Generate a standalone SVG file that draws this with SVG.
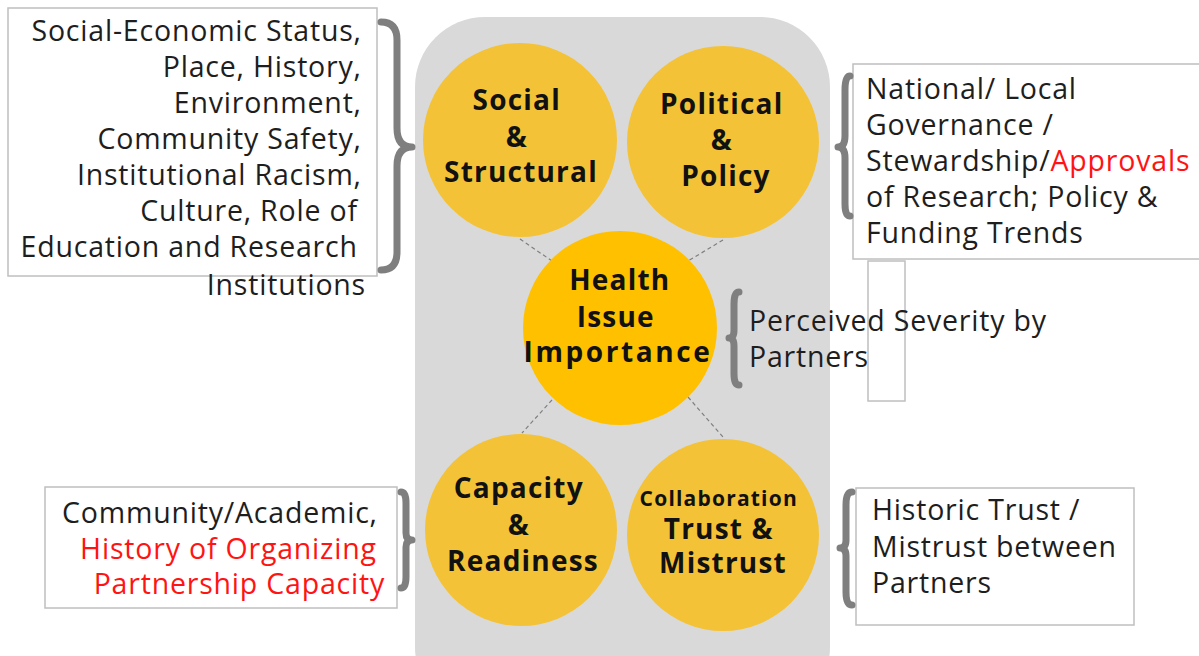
<svg xmlns="http://www.w3.org/2000/svg" width="1199" height="656" viewBox="0 0 1199 656">
  <style>
    .panel { fill: #d9d9d9; }
    .outer { fill: #f4c236; }
    .core { fill: #ffc000; }
    .box { fill: #ffffff; stroke: #bfbfbf; stroke-width: 1.5; }
    .brace { fill: none; stroke: #7f7f7f; stroke-width: 7; stroke-linecap: round; stroke-linejoin: round; }
    .link { stroke: #7f7f7f; stroke-width: 1.2; stroke-dasharray: 4 3; }
    .title { font-family: "Open Sans", "Noto Sans", sans-serif; font-weight: bold; font-size: 28px; letter-spacing: 1.2px; fill: #111111; text-anchor: middle; }
    .note { font-family: "Open Sans", "Noto Sans", sans-serif; font-size: 28.5px; letter-spacing: 0.8px; fill: #1e1e1e; }
    .red { fill: #ff1414; }
  </style>

  <!-- background panel holding the five factors -->
  <rect class="panel" x="415" y="17" width="415" height="700" rx="70" ry="70"/>

  <!-- annotation boxes with their braces -->
  <g id="note-social">
    <rect class="box" x="8" y="8" width="369" height="268"/>
    <text class="note" text-anchor="end">
      <tspan x="370" y="41">Social-Economic Status,</tspan>
      <tspan x="370" y="77">Place, History,</tspan>
      <tspan x="370" y="113">Environment,</tspan>
      <tspan x="370" y="149">Community Safety,</tspan>
      <tspan x="370" y="185">Institutional Racism,</tspan>
      <tspan x="366" y="221">Culture, Role of</tspan>
      <tspan x="366" y="257">Education and Research</tspan>
      <tspan x="366" y="295">Institutions</tspan>
    </text>
    <path class="brace" d="M381,22 Q397,22 397,40 L397,128 Q397,147 412,147 Q397,147 397,166 L397,252 Q397,270 381,270"/>
  </g>

  <g id="note-political">
    <rect class="box" x="853" y="64" width="350" height="195"/>
    <text class="note">
      <tspan x="866" y="99">National/ Local</tspan>
      <tspan x="866" y="135">Governance /</tspan>
      <tspan x="866" y="171">Stewardship/<tspan class="red">Approvals</tspan></tspan>
      <tspan x="866" y="207">of Research; Policy &amp;</tspan>
      <tspan x="866" y="243">Funding Trends</tspan>
    </text>
    <path class="brace" d="M850,76 Q845,76 845,90 L845,136 Q845,147 838,147 Q845,147 845,158 L845,204 Q845,216 850,216"/>
  </g>

  <g id="note-blank">
    <rect class="box" x="868" y="261" width="37" height="140"/>
  </g>

  <g id="note-severity">
    <path class="brace" d="M739,292 Q734,292 734,304 L734,330 Q734,338 729,338 Q734,338 734,346 L734,374 Q734,385 739,385"/>
    <text class="note">
      <tspan x="749" y="331">Perceived Severity by</tspan>
      <tspan x="749" y="367">Partners</tspan>
    </text>
  </g>

  <g id="note-capacity">
    <rect class="box" x="45" y="487" width="352" height="121"/>
    <text class="note" text-anchor="end">
      <tspan x="386" y="523">Community/Academic,</tspan>
      <tspan x="385" y="559" class="red">History of Organizing</tspan>
      <tspan x="385" y="594" class="red">Partnership Capacity</tspan>
    </text>
    <path class="brace" d="M401,492 Q406,492 406,503 L406,533 Q406,540 412,540 Q406,540 406,547 L406,577 Q406,588 401,588"/>
  </g>

  <g id="note-trust">
    <rect class="box" x="856" y="488" width="278" height="137"/>
    <text class="note">
      <tspan x="872" y="520">Historic Trust /</tspan>
      <tspan x="872" y="557">Mistrust between</tspan>
      <tspan x="872" y="593">Partners</tspan>
    </text>
    <path class="brace" d="M852,492 Q846,492 846,505 L846,540 Q846,548 840,548 Q846,548 846,556 L846,592 Q846,605 852,605"/>
  </g>

  <!-- dashed links between the central issue and each factor -->
  <g id="connectors">
    <line class="link" x1="520" y1="239" x2="552" y2="261"/>
    <line class="link" x1="723" y1="240" x2="688" y2="261"/>
    <line class="link" x1="552" y1="400" x2="522" y2="433"/>
    <line class="link" x1="688" y1="397" x2="723" y2="437"/>
  </g>

  <g id="social-structural">
    <circle class="outer" cx="520" cy="140" r="97"/>
    <text class="title">
      <tspan x="521" y="110">Social</tspan>
      <tspan x="521" y="147">&amp;</tspan>
      <tspan x="521" y="182">Structural</tspan>
    </text>
  </g>

  <g id="political-policy">
    <circle class="outer" cx="723" cy="142" r="96"/>
    <text class="title">
      <tspan x="726" y="114">Political</tspan>
      <tspan x="726" y="150">&amp;</tspan>
      <tspan x="726" y="186">Policy</tspan>
    </text>
  </g>

  <g id="health-issue">
    <circle class="core" cx="620" cy="328" r="97"/>
    <text class="title">
      <tspan x="624" y="290">Health</tspan>
      <tspan x="620" y="327">Issue</tspan>
      <tspan x="618" y="362" style="letter-spacing:2.6px">Importance</tspan>
    </text>
  </g>

  <g id="capacity-readiness">
    <circle class="outer" cx="521" cy="530" r="96"/>
    <text class="title">
      <tspan x="523" y="498">Capacity</tspan>
      <tspan x="523" y="535">&amp;</tspan>
      <tspan x="523" y="571">Readiness</tspan>
    </text>
  </g>

  <g id="collaboration-trust">
    <circle class="outer" cx="723" cy="535" r="96"/>
    <text class="title">
      <tspan x="723" y="506" style="font-size:21px">Collaboration</tspan>
      <tspan x="723" y="539">Trust &amp;</tspan>
      <tspan x="723" y="573">Mistrust</tspan>
    </text>
  </g>
</svg>
